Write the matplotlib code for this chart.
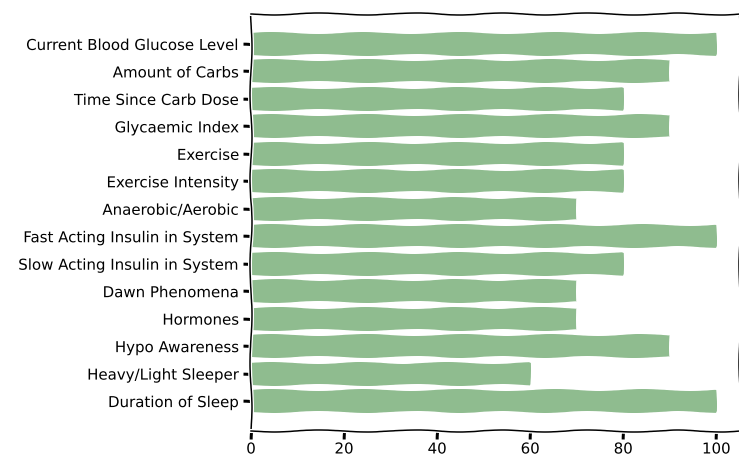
import matplotlib
matplotlib.use('Agg')
import matplotlib.pyplot as plt

# Factors and their importance scores
factors = ['Current Blood Glucose Level', 'Amount of Carbs', 'Time Since Carb Dose',
           'Glycaemic Index', 'Exercise', 'Exercise Intensity', 'Anaerobic/Aerobic',
           'Fast Acting Insulin in System', 'Slow Acting Insulin in System',
           'Dawn Phenomena', 'Hormones', 'Hypo Awareness', 'Heavy/Light Sleeper',
           'Duration of Sleep']
scores = [100, 90, 80, 90, 80, 80, 70, 100, 80, 70, 70, 90, 60, 100]

with plt.xkcd():
    plt.rcParams['font.family'] = ['DejaVu Sans']
    plt.rcParams['font.size'] = 15.0
    plt.rcParams['xtick.major.pad'] = 2.5
    fig = plt.figure(figsize=(739 / 72, 455 / 72), dpi=72)
    ax = fig.add_axes([251 / 739, 1 - 431 / 455, 488.5 / 739, 417 / 455])

    ax.barh(factors[::-1], scores[::-1], color='#8fbc8f', height=0.8)
    ax.set_xticks([0, 20, 40, 60, 80, 100])

    fig.savefig('out.png', dpi=72)
